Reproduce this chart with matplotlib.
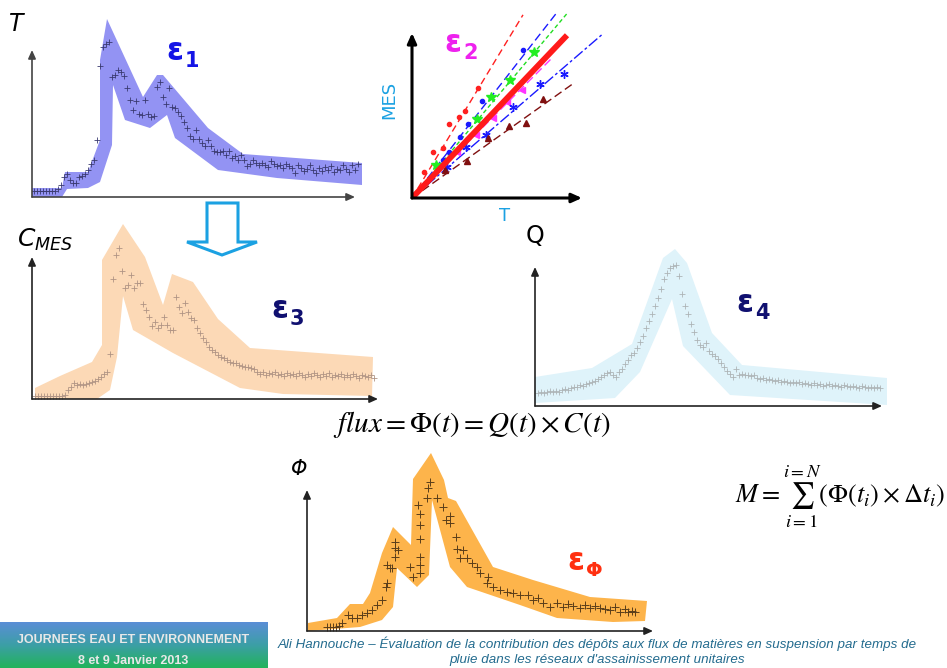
import numpy as np
import matplotlib
matplotlib.use("Agg")
import matplotlib.pyplot as plt
from matplotlib.colors import LinearSegmentedColormap
from matplotlib.patches import Polygon

W, H = 947, 668

# ---- panel T (turbidity) : band edges and measured points ----
t_up_T = [0, 30, 33, 56, 68, 68, 75, 111, 125, 131, 176, 211, 330]
v_up_T = [9, 9, 25, 25, 57, 137, 178, 100, 122, 122, 69, 43, 34]
t_lo_T = [0, 30, 35, 56, 68, 80, 81, 93, 118, 135, 143, 186, 245, 330]
v_lo_T = [0, 0, 8, 9, 15, 52, 112, 77, 69, 82, 59, 27, 19, 12]
pts_T = [6, 6, 6, 6, 6, 6, 6, 6, 8, 12, 20, 23, 17, 14, 14, 20, 21, 23, 27, 33, 37, 57,
         131, 150, 153, 155, 120, 122, 127, 125, 121, 109,
         97, 87, 96, 83, 82, 97, 83, 80, 81, 110,
         115, 100, 93, 109, 90, 89, 85, 81, 75, 69,
         61, 58, 67, 58, 54, 51, 57, 51, 46, 45,
         45, 46, 42, 46, 39, 41, 37, 42, 37, 31,
         33, 37, 34, 32, 34, 32, 30, 36, 33, 31,
         32, 29, 33, 31, 29, 24, 32, 29, 26, 28,
         32, 27, 24, 29, 26, 30, 27, 31, 25, 28,
         27, 32, 28, 25, 32, 27, 33]

# ---- panel MES = f(T) : regression slopes and sample points ----
slopes = [1.65, 1.28, 1.19, 1.05, 1.00, 0.86, 0.71]
t_end = [111, 145, 155, 155, 141, 191, 163]
line_colors = ["#ff2020", "#1a1aff", "#22dd22", "#ff1a1a", "#ff33ff", "#1a1aff", "#801010"]
red_T, red_M = [12, 21, 31, 37, 47, 53, 66], [26, 46, 50, 74, 81, 87, 110]
blue_T, blue_M = [31, 37, 48, 56, 70, 111], [38, 46, 61, 74, 97, 148]
green_T, green_M = [24, 65, 79, 98, 122], [33, 79, 101, 118, 146]
mag_T, mag_M = [45, 64, 81, 95, 110], [46, 63, 80, 96, 108]
ast_T, ast_M = [35, 54, 74, 101, 128, 152], [31, 51, 63, 91, 114, 124]
tri_T, tri_M = [33, 55, 76, 97, 114, 131], [28, 37, 60, 72, 75, 99]

# ---- panel C_MES ----
t_up_C = [3, 28, 60, 70, 70, 91, 113, 131, 140, 161, 186, 218, 341]
v_up_C = [11, 23, 37, 54, 139, 175, 142, 94, 125, 117, 80, 51, 42]
t_lo_C = [3, 65, 78, 85, 91, 101, 141, 208, 251, 340]
v_lo_C = [0, 0, 9, 42, 103, 69, 46, 11, 5, 3]
pts_C = [3, 3, 3, 3, 3, 3, 3, 3, 3, 3,
         4, 9, 12, 16, 14, 15, 14, 15, 16, 17,
         18, 20, 22, 25, 27, 45, 120, 144, 151, 128,
         111, 114, 124, 111, 116, 116, 95, 89, 82, 73,
         77, 71, 74, 82, 74, 69, 69, 102, 92, 86,
         96, 87, 81, 79, 71, 66, 61, 57, 52, 49,
         47, 44, 42, 41, 39, 37, 36, 36, 34, 33,
         32, 32, 31, 30,
         27, 25, 27, 24, 26, 25, 27, 24, 25, 23,
         26, 24, 25, 23, 26, 24, 22, 25, 23, 26,
         24, 22, 25, 23, 26, 22, 24, 23, 25, 22,
         24, 22, 25, 23, 21, 24, 23, 22, 24, 21]

# ---- panel Q ----
t_up_Q = [0, 57, 97, 128, 140, 152, 177, 207, 352]
v_up_Q = [29, 38, 62, 148, 157, 143, 73, 41, 28]
t_lo_Q = [0, 80, 105, 137, 148, 195, 352]
v_lo_Q = [3, 8, 34, 107, 60, 11, 1]
pts_Q = [13, 14, 13, 14, 15, 14, 15, 14, 16, 17,
         16, 18, 19, 19, 21, 20, 22, 23, 24, 25,
         27, 29, 31, 33, 34, 31, 29, 34, 37, 42,
         46, 51, 53, 58, 64, 70, 78, 85, 92, 100,
         108, 117, 127, 133, 138, 140, 141, 130, 112, 100,
         92, 82, 74, 66, 61, 59, 63, 55, 52, 50,
         47, 43, 39, 35, 32, 29, 37, 31, 32, 31,
         31, 30, 31, 28, 27, 28, 26, 27, 26, 25,
         26, 24, 25, 24, 23, 24, 23, 24, 22, 23,
         22, 21, 23, 21, 22, 20, 21, 22, 20, 21,
         20, 19, 21, 20, 19, 20, 19, 18, 20, 19,
         18, 19, 18, 19, 18]

# ---- panel flux Phi ----
t_up_F = [1, 30, 43, 56, 63, 75, 86, 104, 106, 124, 137, 141, 149, 186, 226, 283, 340]
v_up_F = [8, 13, 27, 27, 38, 78, 104, 86, 152, 178, 151, 133, 130, 64, 51, 34, 30]
t_lo_F = [1, 53, 75, 86, 90, 110, 122, 125, 143, 160, 213, 250, 306, 338]
v_lo_F = [0, 4, 11, 24, 63, 44, 56, 131, 64, 44, 26, 13, 9, 10]
pts_F_t = [20, 23, 26, 29, 32, 35, 41, 45, 50, 55, 60, 65, 70, 75, 79, 80, 80, 83, 85,
           88, 91, 88, 88, 103, 106, 113, 113, 113, 113, 113, 113, 111, 120, 121, 123,
           130, 136, 143, 139, 143, 149, 150, 156, 153, 160, 165, 170, 173, 181, 180,
           186, 193, 200, 206, 213, 221, 226, 231, 236, 243, 250, 256, 261, 266, 273,
           278, 283, 288, 293, 298, 303, 308, 313, 318, 321, 325, 328]
pts_F_v = [4, 4, 4, 4, 5, 8, 16, 13, 13, 16, 18, 21, 26, 31, 44, 48, 66, 63, 63,
           74, 81, 83, 89, 64, 54, 74, 66, 58, 92, 106, 117, 126, 133, 143, 149,
           133, 124, 115, 111, 108, 94, 82, 81, 73, 73, 68, 64, 58, 54, 48,
           44, 41, 39, 38, 36, 36, 31, 33, 28, 24, 28, 24, 27, 25, 23,
           26, 23, 25, 23, 22, 21, 24, 19, 22, 19, 20, 19]

plt.rcParams["font.family"] = ["DejaVu Sans"]
fig = plt.figure(figsize=(W / 100, H / 100), dpi=100)
fig.patch.set_facecolor("white")


def panel(left, top, right, bottom):
    ax = fig.add_axes([left / W, 1 - bottom / H, (right - left) / W, (bottom - top) / H])
    ax.set_xlim(0, right - left)
    ax.set_ylim(0, bottom - top)
    ax.axis("off")
    return ax


def axis_arrows(ax, x_tip, y_tip, color="#222222", lw=1.2, head=0.5):
    style = f"-|>,head_length={head},head_width={head * 0.45}"
    for xy in ((x_tip, 0), (0, y_tip)):
        ax.annotate("", xy=xy, xytext=(0, 0), annotation_clip=False, zorder=5,
                    arrowprops=dict(arrowstyle=style, color=color, lw=lw,
                                    shrinkA=0, shrinkB=0))


def band(ax, tu, vu, tl, vl, color):
    ax.fill(np.r_[tu, tl[::-1]], np.r_[vu, vl[::-1]], color=color, lw=0, zorder=1)


def ftext(x, y, s, **kw):
    kw.setdefault("ha", "left")
    kw.setdefault("va", "center")
    fig.text(x / W, 1 - y / H, s, **kw)


def eps_label(x, y, sub, color, subsize=15):
    ftext(x, y, "ε", color=color, fontsize=22, fontweight="bold")
    ftext(x + 19, y + 9, sub, color=color, fontsize=subsize, fontweight="bold")


# T panel
ax1 = panel(32, 15, 365, 197)
band(ax1, t_up_T, v_up_T, t_lo_T, v_lo_T, "#9393f3")
ax1.plot(2 + 3 * np.arange(len(pts_T)), pts_T, ls="none", marker="+", ms=4.5,
         mew=0.6, color="#3a3a70", zorder=2)
axis_arrows(ax1, 323, 147, color="#444444")
ftext(9, 24, "T", fontsize=17, fontstyle="italic")
eps_label(166, 52, "1", "#1414e6")

# MES vs T panel
ax2 = panel(412, 5, 612, 198)
styles = [(0, (5, 3)), (0, (6, 3)), (0, (3, 2)), "-", (0, (6, 3)), (0, (8, 2, 2, 2)), (0, (6, 3))]
for k, (s, te, c, ls) in enumerate(zip(slopes, t_end, line_colors, styles)):
    ax2.plot([0, te], [0, s * te], color=c, ls=ls, lw=4.2 if k == 3 else 1.0,
             zorder=4 if k == 3 else 2, solid_capstyle="butt")
ax2.plot(red_T, red_M, "o", ms=3, color="#ff2020", zorder=3)
ax2.plot(blue_T, blue_M, "o", ms=3, color="#1a1aff", zorder=3)
ax2.plot(green_T, green_M, "*", ms=7, color="#22ee22", zorder=3)
ax2.plot(mag_T, mag_M, "<", ms=5, color="#ff33ff", zorder=3)
ax2.plot(ast_T, ast_M, marker=(6, 2, 0), ls="none", ms=6, mew=1, color="#1a1aff", zorder=3)
ax2.plot(tri_T, tri_M, "^", ms=5, color="#801010", zorder=3)
axis_arrows(ax2, 170, 165, color="black", lw=2.2, head=0.6)
ftext(389, 100, "MES", fontsize=13, color="#1ba1e2", rotation=90, ha="center")
ftext(505, 216, "T", fontsize=13, color="#1ba1e2", ha="center")
eps_label(444, 44, "2", "#ee22ee")

# hollow down arrow between T and C panels
arrow_px = [(207, 203), (238, 203), (238, 242), (257, 242), (222, 255),
            (187, 242), (207, 242)]
fig.patches.append(Polygon([(x / W, 1 - y / H) for x, y in arrow_px], closed=True,
                           fill=False, ec="#1ba1e2", lw=2.2, transform=fig.transFigure))

# C_MES panel
ax3 = panel(32, 215, 380, 399)
band(ax3, t_up_C, v_up_C, t_lo_C, v_lo_C, "#fcd9b6")
ax3.plot(3 + 3 * np.arange(len(pts_C)), pts_C, ls="none", marker="+", ms=5,
         mew=0.6, color="#b09484", zorder=2)
axis_arrows(ax3, 346, 142)
ftext(17, 240, r"$C_{MES}$", fontsize=18)
eps_label(271, 310, "3", "#101070")

# Q panel
ax4 = panel(535, 240, 890, 406)
band(ax4, t_up_Q, v_up_Q, t_lo_Q, v_lo_Q, "#dff3fa")
ax4.plot(3 + 3 * np.arange(len(pts_Q)), pts_Q, ls="none", marker="+", ms=5,
         mew=0.6, color="#adb4b6", zorder=2)
axis_arrows(ax4, 347, 139)
ftext(526, 236, "Q", fontsize=17)
eps_label(736, 304, "4", "#101070")

# flux formula
ftext(472, 424, r"$flux=\mathit{\Phi}\left(t\right)=Q\left(t\right)\times C\left(t\right)$",
      fontsize=21, math_fontfamily="stix", ha="center")

# Phi panel
ax5 = panel(307, 440, 656, 631)
band(ax5, t_up_F, v_up_F, t_lo_F, v_lo_F, "#fdb44b")
ax5.plot(pts_F_t, pts_F_v, ls="none", marker="+", ms=5.5, mew=0.7,
         color="#5a3e1a", zorder=2)
axis_arrows(ax5, 346, 141)
ftext(291, 469, "Φ", fontsize=15, fontstyle="italic")
eps_label(567, 562, "Φ", "#ff3010", subsize=14)

# mass formula
ftext(840, 497, r"$M=\sum_{i=1}^{i=N}\left(\Phi\left(t_i\right)\times\Delta t_i\right)$",
      fontsize=19, math_fontfamily="stix", ha="center")

# footer
axf = fig.add_axes([0, 0, 267 / W, 46 / H])
grad = LinearSegmentedColormap.from_list("foot", ["#5a8ed6", "#3c9fa6", "#22b35c"])
axf.imshow(np.linspace(0, 1, 50).reshape(-1, 1), cmap=grad, aspect="auto",
           extent=(0, 1, 0, 1))
axf.axis("off")
ftext(133, 640, "JOURNEES EAU ET ENVIRONNEMENT", fontsize=9, fontweight="bold",
      color="#e8e8e8", ha="center", family=["Liberation Sans", "DejaVu Sans"])
ftext(133, 661, "8 et 9 Janvier 2013", fontsize=9, fontweight="bold",
      color="#e8e8e8", ha="center", family=["Liberation Sans", "DejaVu Sans"])
foot_font = ["Liberation Sans Narrow", "Liberation Sans", "DejaVu Sans"]
ftext(597, 644, "Ali Hannouche – Évaluation de la contribution des dépôts aux flux de "
      "matières en suspension par temps de", fontsize=9.6, fontstyle="italic",
      color="#236b8e", ha="center", family=foot_font)
ftext(597, 660, "pluie dans les réseaux d'assainissement unitaires", fontsize=9.6,
      fontstyle="italic", color="#236b8e", ha="center", family=foot_font)

fig.savefig("out.png", dpi=100)
